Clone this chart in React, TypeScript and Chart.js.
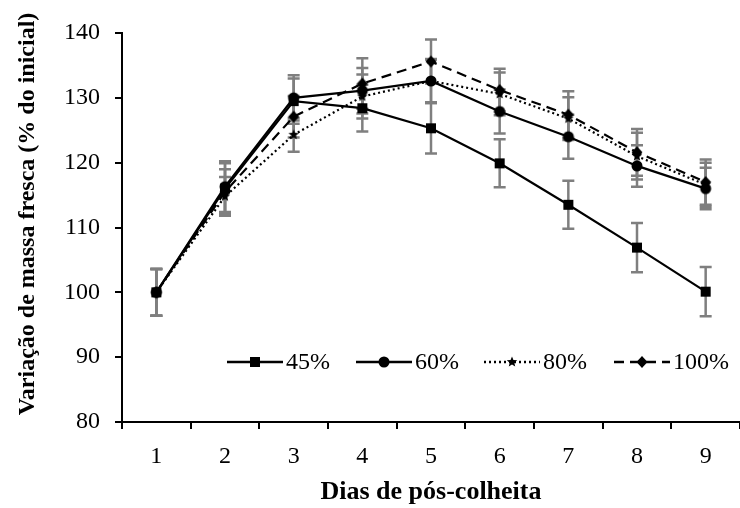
import React, { useEffect, useRef } from "react";
import { Chart, registerables } from "chart.js";

Chart.register(...registerables);

// Days after harvest
const days = ["1", "2", "3", "4", "5", "6", "7", "8", "9"];

// Series labels (treatment levels)
const seriesLabels = ["45%", "60%", "80%", "100%"];

// Fresh mass variation (% of initial) per day
const mass45 = [100, 116.0, 129.5, 128.4, 125.3, 119.9, 113.5, 106.9, 100.1];
const mass60 = [100, 116.3, 130.0, 131.1, 132.6, 127.9, 124.0, 119.5, 116.0];
const mass80 = [100, 114.8, 124.3, 130.2, 132.6, 130.6, 126.8, 121.0, 116.6];
const mass100 = [100, 115.5, 127.1, 132.2, 135.6, 131.2, 127.4, 121.6, 117.0];

// Standard errors for each series
const err45 = [3.6, 3.9, 3.5, 3.6, 3.9, 3.7, 3.7, 3.8, 3.8];
const err60 = [3.6, 3.9, 3.5, 3.5, 3.4, 3.4, 3.4, 3.2, 3.2];
const err80 = [3.6, 3.0, 2.6, 3.4, 3.3, 3.3, 3.3, 3.6, 3.4];
const err100 = [3.6, 3.5, 3.2, 3.9, 3.4, 3.3, 3.6, 3.6, 3.5];

// Y axis range
const yMin = 80;
const yMax = 140;
const yStep = 10;

const xTitle = "Dias de pós-colheita";
const yTitle = "Variação de massa fresca (% do inicial)";

const SERIF = "'Liberation Serif', 'Times New Roman', serif";

type MarkerKind = "square" | "circle" | "star" | "diamond";

function makeMarker(kind: MarkerKind): HTMLCanvasElement {
  const size = 14;
  const c = document.createElement("canvas");
  c.width = size;
  c.height = size;
  const g = c.getContext("2d")!;
  const m = size / 2;
  g.fillStyle = "#000";
  g.beginPath();
  if (kind === "square") {
    g.rect(m - 5, m - 5, 10, 10);
  } else if (kind === "circle") {
    g.arc(m, m, 5.5, 0, Math.PI * 2);
  } else if (kind === "diamond") {
    g.moveTo(m, m - 6);
    g.lineTo(m + 5.5, m);
    g.lineTo(m, m + 6);
    g.lineTo(m - 5.5, m);
    g.closePath();
  } else {
    for (let k = 0; k < 10; k++) {
      const r = k % 2 === 0 ? 5.5 : 2.4;
      const a = -Math.PI / 2 + (k * Math.PI) / 5;
      const px = m + r * Math.cos(a);
      const py = m + r * Math.sin(a);
      if (k === 0) g.moveTo(px, py);
      else g.lineTo(px, py);
    }
    g.closePath();
  }
  g.fill();
  return c;
}

export default function App() {
  const canvasRef = useRef<HTMLCanvasElement | null>(null);

  useEffect(() => {
    const canvas = canvasRef.current;
    if (!canvas) return;

    const markers = [
      makeMarker("square"),
      makeMarker("circle"),
      makeMarker("star"),
      makeMarker("diamond"),
    ];
    const values = [mass45, mass60, mass80, mass100];
    const errors = [err45, err60, err80, err100];
    const dashes: number[][] = [[], [], [2, 3], [10, 6]];

    const errorBars = {
      id: "errorBars",
      beforeDatasetsDraw(chart: any) {
        const ctx = chart.ctx;
        const yScale = chart.scales.y;
        ctx.save();
        ctx.strokeStyle = "#7f7f7f";
        ctx.lineWidth = 2.5;
        ctx.setLineDash([]);
        chart.data.datasets.forEach((ds: any, i: number) => {
          const meta = chart.getDatasetMeta(i);
          const errs = errors[i];
          meta.data.forEach((pt: any, j: number) => {
            const v = ds.data[j];
            const e = errs[j];
            const x = pt.x;
            const yt = yScale.getPixelForValue(v + e);
            const yb = yScale.getPixelForValue(v - e);
            ctx.beginPath();
            ctx.moveTo(x, yt);
            ctx.lineTo(x, yb);
            ctx.moveTo(x - 6, yt);
            ctx.lineTo(x + 6, yt);
            ctx.moveTo(x - 6, yb);
            ctx.lineTo(x + 6, yb);
            ctx.stroke();
          });
        });
        ctx.restore();
      },
    };

    // Rotated y-axis title, centred a little above the middle of the axis
    const yAxisTitle = {
      id: "yAxisTitle",
      afterDraw(chart: any) {
        const ctx = chart.ctx;
        ctx.save();
        ctx.translate(28, 214);
        ctx.rotate(-Math.PI / 2);
        ctx.fillStyle = "#000";
        ctx.font = `bold 24px ${SERIF}`;
        ctx.textAlign = "center";
        ctx.textBaseline = "middle";
        ctx.fillText(yTitle, 0, 0);
        ctx.restore();
      },
    };

    // Legend drawn inside the plot, one row
    const legendStarts = [227, 356, 484, 614];
    const legendY = 362;
    const sampleLen = 56;
    const inlineLegend = {
      id: "inlineLegend",
      afterDraw(chart: any) {
        const ctx = chart.ctx;
        ctx.save();
        chart.data.datasets.forEach((ds: any, i: number) => {
          const x0 = legendStarts[i];
          ctx.strokeStyle = "#000";
          ctx.lineWidth = 2.5;
          ctx.setLineDash(dashes[i]);
          ctx.beginPath();
          ctx.moveTo(x0, legendY);
          ctx.lineTo(x0 + sampleLen, legendY);
          ctx.stroke();
          ctx.setLineDash([]);
          const mk = markers[i];
          ctx.drawImage(mk, x0 + sampleLen / 2 - mk.width / 2, legendY - mk.height / 2);
          ctx.fillStyle = "#000";
          ctx.font = `24px ${SERIF}`;
          ctx.textAlign = "left";
          ctx.textBaseline = "middle";
          ctx.fillText(ds.label, x0 + sampleLen + 3, legendY + 1);
        });
        ctx.restore();
      },
    };

    const chart = new Chart(canvas, {
      type: "line",
      data: {
        labels: days,
        datasets: values.map((vals, i) => ({
          label: seriesLabels[i],
          data: vals,
          borderColor: "#000",
          backgroundColor: "#000",
          borderWidth: 2.2,
          borderDash: dashes[i],
          pointStyle: markers[i] as any,
          pointRadius: 6,
          tension: 0,
          fill: false,
          clip: false,
        })),
      },
      options: {
        responsive: false,
        animation: false,
        events: [],
        layout: {
          autoPadding: false,
          padding: { top: 33, right: 0, bottom: 0, left: 0 },
        },
        plugins: {
          legend: { display: false },
          tooltip: { enabled: false },
        },
        scales: {
          x: {
            type: "category",
            offset: true,
            grid: {
              offset: true,
              drawOnChartArea: false,
              drawTicks: true,
              tickLength: 7,
              color: "#000",
              lineWidth: 2,
            },
            border: { display: true, color: "#000", width: 2 },
            ticks: {
              color: "#000",
              font: { family: SERIF, size: 24 },
              padding: 13,
            },
            title: {
              display: true,
              text: xTitle,
              color: "#000",
              font: { family: SERIF, size: 26, weight: "bold" },
              padding: { top: 0, bottom: 0 },
            },
            afterFit: (scale: any) => {
              scale.height = 86;
              scale.paddingLeft = 0;
              scale.paddingRight = 0;
            },
          },
          y: {
            min: yMin,
            max: yMax,
            grid: {
              drawOnChartArea: false,
              drawTicks: true,
              tickLength: 7,
              color: "#000",
              lineWidth: 2,
            },
            border: { display: true, color: "#000", width: 2 },
            ticks: {
              stepSize: yStep,
              color: "#000",
              font: { family: SERIF, size: 24 },
              padding: 15,
            },
            afterFit: (scale: any) => {
              scale.width = 122;
            },
          },
        },
      },
      plugins: [errorBars, yAxisTitle, inlineLegend],
    });

    return () => {
      chart.destroy();
    };
  }, []);

  return (
    <div
      style={{
        position: "fixed",
        left: 0,
        top: 0,
        width: 740,
        height: 508,
        background: "#fff",
      }}
    >
      <canvas ref={canvasRef} width={740} height={508} />
    </div>
  );
}
